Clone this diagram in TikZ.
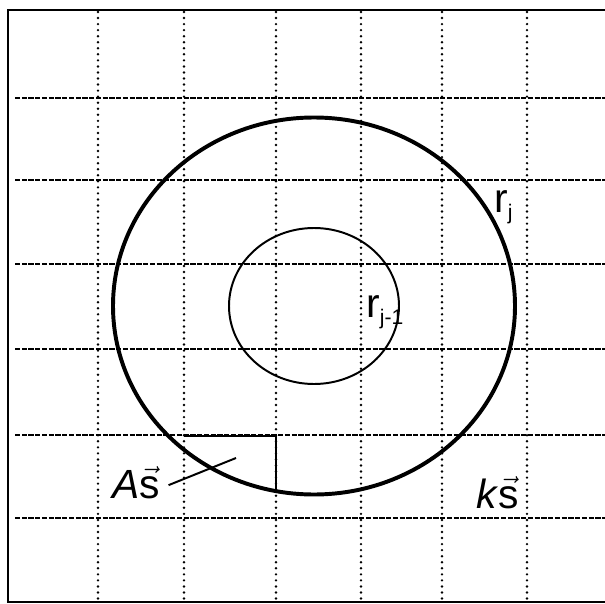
\documentclass[tikz,border=0pt]{standalone}
\usepackage{amsmath}
\usepackage{fontspec}
\setmainfont{Liberation Sans}
\usetikzlibrary{positioning}
\newcommand{\vs}{\ensuremath{\vec{\text{s}}}}
\newcommand{\sub}[1]{\raisebox{-5pt}{\fontsize{15}{16}\selectfont #1}}

\begin{document}
\begin{tikzpicture}[x=0.025cm, y=-0.025cm,
  gridv/.style={line width=1.9pt, line cap=round, dash pattern=on 0pt off 4.3pt},
  gridh/.style={line width=1.4pt, dash pattern=on 3.6pt off 1.2pt},
  frame/.style={line width=1.4pt},
  lab/.style={inner sep=0pt, anchor=base west, font=\fontsize{29}{32}\selectfont}]
  \useasboundingbox (0,0) rectangle (605,604);
  % grid: dotted columns, dashed rows
  \foreach \x in {98, 184, 276, 361, 442, 527} \draw[gridv] (\x,12) -- (\x,601);
  \foreach \y in {98, 180, 264, 349, 435, 518} \draw[gridh] (15,\y) -- (605,\y);
  % frame (open on the right)
  \draw[frame] (605,10) -- (8,10) -- (8,602) -- (605,602);
  % circles
  \coordinate (c) at (314,306);
  \draw[line width=2.8pt] (c) ellipse [x radius=201, y radius=188.5];
  \draw[line width=1.4pt] (c) ellipse [x radius=85, y radius=78];
  % the cell A
  \draw[line width=1.4pt] (184,436) -- (276,436) -- (276,491);
  % labels
  \node[lab] (As) at (112,498) {\textit{A}\vs};
  \node[lab] (rj) at (494,212) {r\sub{j}};
  \node[lab] (rjm) at (366,317) {r\sub{j-1}};
  \node[lab] (ks) at (476,508) {\textit{k}\vs};
  \coordinate (Ain) at (236,458);
  \draw[line width=1.4pt] ([xshift=6pt, yshift=-2pt]As.east) -- (Ain);
\end{tikzpicture}
\end{document}
